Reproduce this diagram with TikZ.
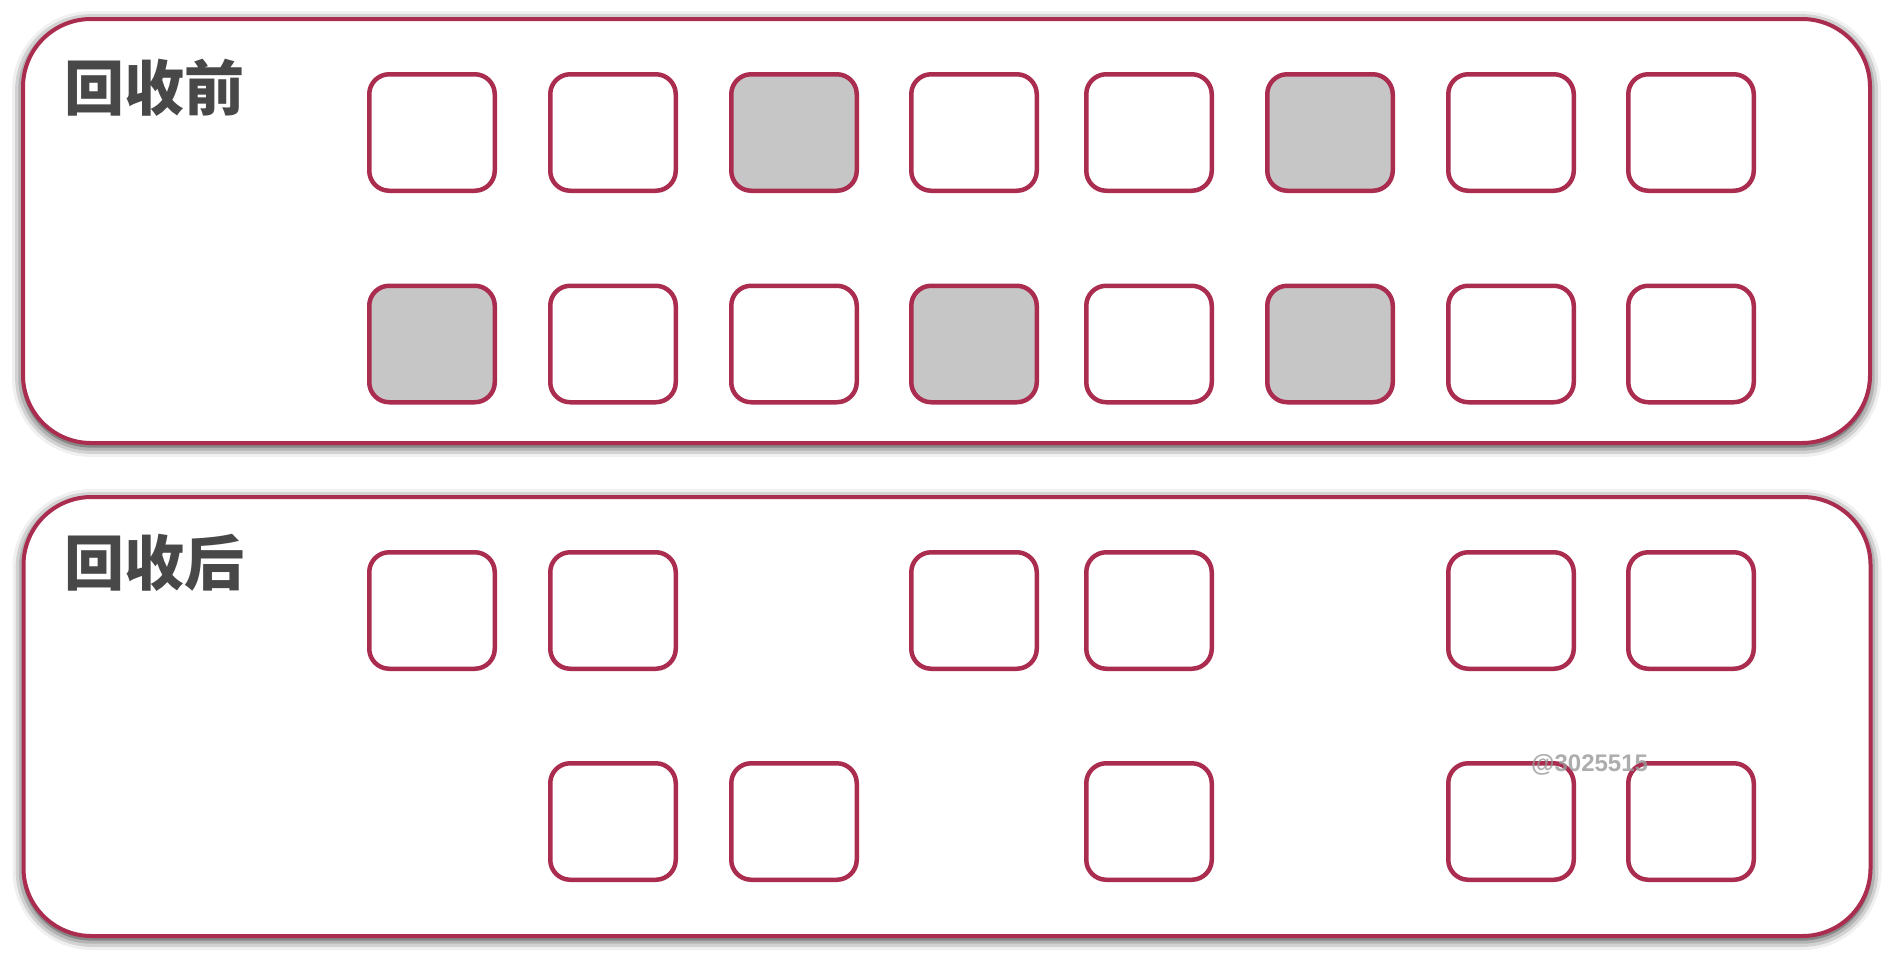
\documentclass[tikz,border=0pt]{standalone}
\usepackage{fontspec}
\newfontfamily\cjk{Noto Sans CJK SC}
\newfontfamily\wmfont{Liberation Sans}
\usetikzlibrary{shadows.blur}
\definecolor{edge}{RGB}{170,45,80}
\definecolor{used}{RGB}{198,198,198}
\definecolor{label}{RGB}{72,72,72}
\tikzset{
  panel/.style={draw=edge, line width=4pt, fill=white, rounded corners=68pt,
    minimum width=1847pt, inner sep=0pt,
    blur shadow={shadow xshift=0pt, shadow yshift=-3pt, shadow blur radius=11pt, shadow opacity=95}},
  cell/.style={draw=edge, line width=4.5pt, fill=white, rounded corners=20pt,
    minimum width=125.5pt, minimum height=116.5pt, inner sep=0pt},
  usedcell/.style={cell, fill=used},
  title/.style={font=\cjk\bfseries\fontsize{60}{62}\selectfont, text=label, inner sep=0pt, anchor=base west},
  wmark/.style={font=\wmfont\bfseries\fontsize{24}{26}\selectfont, text=black!40, opacity=0.8, inner sep=0pt, anchor=base west}
}
\begin{document}
\begin{tikzpicture}[x=1pt,y=-1pt]
\useasboundingbox (0,0) rectangle (1892,956);
% panels
\node[panel, minimum height=424pt] (before) at (946.5,231) {};
\node[panel, minimum height=439pt] (after) at (947,716.5) {};
\node[title] (tbefore) at (64,110) {回收前};
\node[title] (tafter) at (64,585) {回收后};
% top panel, row 1
\node[cell] (b11) at (432,132.5) {};
\node[cell] (b12) at (613,132.5) {};
\node[usedcell] (b13) at (794,132.5) {};
\node[cell] (b14) at (974,132.5) {};
\node[cell] (b15) at (1149,132.5) {};
\node[usedcell] (b16) at (1330,132.5) {};
\node[cell] (b17) at (1511,132.5) {};
\node[cell] (b18) at (1691,132.5) {};
% top panel, row 2
\node[usedcell] (b21) at (432,344) {};
\node[cell] (b22) at (613,344) {};
\node[cell] (b23) at (794,344) {};
\node[usedcell] (b24) at (974,344) {};
\node[cell] (b25) at (1149,344) {};
\node[usedcell] (b26) at (1330,344) {};
\node[cell] (b27) at (1511,344) {};
\node[cell] (b28) at (1691,344) {};
% bottom panel, row 1
\node[cell] (a11) at (432,610.5) {};
\node[cell] (a12) at (613,610.5) {};
\node[cell] (a14) at (974,610.5) {};
\node[cell] (a15) at (1149,610.5) {};
\node[cell] (a17) at (1511,610.5) {};
\node[cell] (a18) at (1691,610.5) {};
% bottom panel, row 2
\node[cell] (a22) at (613,821.5) {};
\node[cell] (a23) at (794,821.5) {};
\node[cell] (a25) at (1149,821.5) {};
\node[cell] (a27) at (1511,821.5) {};
\node[cell] (a28) at (1691,821.5) {};
% watermark
\node[wmark] (wm) at (1531,771) {@3025515};
\end{tikzpicture}
\end{document}
